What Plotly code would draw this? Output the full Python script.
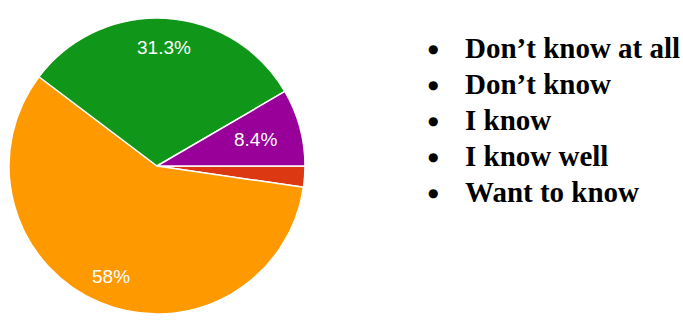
import math
import plotly.graph_objects as go

categories = ["Don’t know at all", "Don’t know", "I know", "I know well", "Want to know"]
values = [0, 2.3, 58, 31.3, 8.4]
colors = ["#3366cc", "#dc3912", "#ff9900", "#109618", "#990099"]
slice_text = ["", "", "58%", "31.3%", "8.4%"]
label_radius = [0.8, 0.8, 0.81, 0.8, 0.69]

W, H = 683, 320
cx, cy, R = 157, 166, 148
start_deg = 90  # plotly rotation: first slice starts at 3 o'clock

fig = go.Figure()
fig.add_trace(go.Pie(
    labels=categories,
    values=values,
    textinfo="none",
    sort=False,
    direction="clockwise",
    rotation=start_deg,
    marker=dict(colors=colors, line=dict(color="white", width=1.5)),
    showlegend=False,
    hoverinfo="label+percent",
    domain=dict(x=[(cx - R) / W, (cx + R) / W], y=[(H - cy - R) / H, (H - cy + R) / H]),
))

# percentage labels placed on each slice's bisector
total = sum(values)
cum = 0.0
for v, t, f in zip(values, slice_text, label_radius):
    mid = (90 - start_deg) - 360.0 * (cum + v / 2) / total
    cum += v
    if not t:
        continue
    a = math.radians(mid)
    px = cx + f * R * math.cos(a)
    py = cy - f * R * math.sin(a)
    fig.add_annotation(x=px / W, y=1 - py / H, xref="paper", yref="paper", text=t,
                       showarrow=False, xanchor="center", yanchor="middle",
                       font=dict(family="Liberation Sans, Arial, sans-serif", size=19, color="white"))

# bulleted legend (black bullets, bold serif text)
y0, dy = 48, 36
for i, name in enumerate(categories):
    yy = y0 + i * dy
    fig.add_annotation(x=433 / W, y=1 - (yy + 1) / H, xref="paper", yref="paper",
                       text="●", showarrow=False, xanchor="center", yanchor="middle",
                       font=dict(family="DejaVu Sans, sans-serif", size=12, color="black"))
    fig.add_annotation(x=463 / W, y=1 - yy / H, xref="paper", yref="paper",
                       text="<b>" + name + "</b>", showarrow=False, xanchor="left", yanchor="middle",
                       font=dict(family="Liberation Serif, Times New Roman, serif", size=29, color="black"))

fig.update_layout(width=W, height=H, margin=dict(l=0, r=0, t=0, b=0),
                  paper_bgcolor="white", plot_bgcolor="white")
fig.write_html("out.html")
